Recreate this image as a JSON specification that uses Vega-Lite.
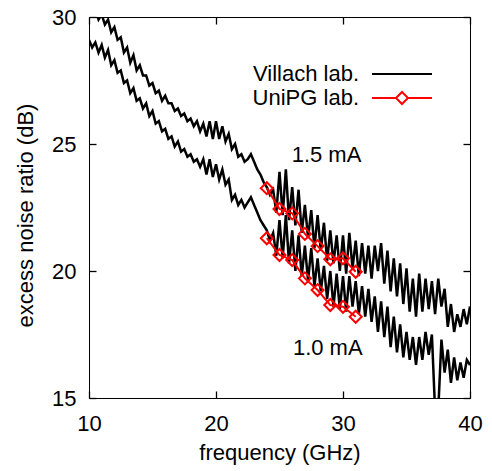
{
  "$schema": "https://vega.github.io/schema/vega-lite/v6.json",
  "width": 381,
  "height": 381,
  "autosize": {"type": "none"},
  "padding": {"left": 89, "top": 17, "right": 22, "bottom": 73},
  "background": "white",
  "config": {
    "view": {"stroke": "black", "strokeWidth": 1},
    "font": "Liberation Sans",
    "axis": {"grid": false, "domain": false, "ticks": true, "offset": -7, "tickSize": 7, "tickColor": "black", "tickWidth": 1.3, "labelColor": "black", "titleColor": "black", "labelFont": "Liberation Sans", "titleFont": "Liberation Sans", "labelFontSize": 22, "titleFontSize": 22, "titleFontWeight": "normal", "labelFlush": false, "labelOverlap": false}
  },
  "datasets": {
    "villach": [
      {"f":10.00,"v":30.5,"c":"1.5 mA","lab":"Villach lab."},{"f":10.25,"v":30.2,"c":"1.5 mA","lab":"Villach lab."},{"f":10.50,"v":30.3,"c":"1.5 mA","lab":"Villach lab."},{"f":10.75,"v":29.9,"c":"1.5 mA","lab":"Villach lab."},
      {"f":11.00,"v":30.1,"c":"1.5 mA","lab":"Villach lab."},{"f":11.25,"v":29.7,"c":"1.5 mA","lab":"Villach lab."},{"f":11.50,"v":29.9,"c":"1.5 mA","lab":"Villach lab."},{"f":11.75,"v":29.4,"c":"1.5 mA","lab":"Villach lab."},
      {"f":12.00,"v":29.6,"c":"1.5 mA","lab":"Villach lab."},{"f":12.25,"v":29.1,"c":"1.5 mA","lab":"Villach lab."},{"f":12.50,"v":29.2,"c":"1.5 mA","lab":"Villach lab."},{"f":12.75,"v":28.6,"c":"1.5 mA","lab":"Villach lab."},
      {"f":13.00,"v":28.8,"c":"1.5 mA","lab":"Villach lab."},{"f":13.25,"v":28.2,"c":"1.5 mA","lab":"Villach lab."},{"f":13.50,"v":28.5,"c":"1.5 mA","lab":"Villach lab."},{"f":13.75,"v":27.9,"c":"1.5 mA","lab":"Villach lab."},
      {"f":14.00,"v":28.1,"c":"1.5 mA","lab":"Villach lab."},{"f":14.25,"v":27.7,"c":"1.5 mA","lab":"Villach lab."},{"f":14.50,"v":27.7,"c":"1.5 mA","lab":"Villach lab."},{"f":14.75,"v":27.3,"c":"1.5 mA","lab":"Villach lab."},
      {"f":15.00,"v":27.4,"c":"1.5 mA","lab":"Villach lab."},{"f":15.25,"v":27.0,"c":"1.5 mA","lab":"Villach lab."},{"f":15.50,"v":27.1,"c":"1.5 mA","lab":"Villach lab."},{"f":15.75,"v":26.7,"c":"1.5 mA","lab":"Villach lab."},
      {"f":16.00,"v":26.9,"c":"1.5 mA","lab":"Villach lab."},{"f":16.25,"v":26.6,"c":"1.5 mA","lab":"Villach lab."},{"f":16.50,"v":26.6,"c":"1.5 mA","lab":"Villach lab."},{"f":16.75,"v":26.3,"c":"1.5 mA","lab":"Villach lab."},
      {"f":17.00,"v":26.4,"c":"1.5 mA","lab":"Villach lab."},{"f":17.25,"v":26.1,"c":"1.5 mA","lab":"Villach lab."},{"f":17.50,"v":26.2,"c":"1.5 mA","lab":"Villach lab."},{"f":17.75,"v":25.9,"c":"1.5 mA","lab":"Villach lab."},
      {"f":18.00,"v":26.0,"c":"1.5 mA","lab":"Villach lab."},{"f":18.25,"v":25.7,"c":"1.5 mA","lab":"Villach lab."},{"f":18.50,"v":25.9,"c":"1.5 mA","lab":"Villach lab."},{"f":18.75,"v":25.5,"c":"1.5 mA","lab":"Villach lab."},
      {"f":19.00,"v":25.8,"c":"1.5 mA","lab":"Villach lab."},{"f":19.25,"v":25.3,"c":"1.5 mA","lab":"Villach lab."},{"f":19.50,"v":25.9,"c":"1.5 mA","lab":"Villach lab."},{"f":19.75,"v":25.2,"c":"1.5 mA","lab":"Villach lab."},
      {"f":20.00,"v":25.9,"c":"1.5 mA","lab":"Villach lab."},{"f":20.25,"v":25.2,"c":"1.5 mA","lab":"Villach lab."},{"f":20.50,"v":25.7,"c":"1.5 mA","lab":"Villach lab."},{"f":20.75,"v":25.1,"c":"1.5 mA","lab":"Villach lab."},
      {"f":21.00,"v":25.4,"c":"1.5 mA","lab":"Villach lab."},{"f":21.25,"v":24.8,"c":"1.5 mA","lab":"Villach lab."},{"f":21.50,"v":25.0,"c":"1.5 mA","lab":"Villach lab."},{"f":21.75,"v":24.5,"c":"1.5 mA","lab":"Villach lab."},
      {"f":22.00,"v":24.6,"c":"1.5 mA","lab":"Villach lab."},{"f":22.25,"v":24.3,"c":"1.5 mA","lab":"Villach lab."},{"f":22.50,"v":24.4,"c":"1.5 mA","lab":"Villach lab."},{"f":22.75,"v":24.6,"c":"1.5 mA","lab":"Villach lab."},
      {"f":23.00,"v":24.3,"c":"1.5 mA","lab":"Villach lab."},{"f":23.25,"v":24.0,"c":"1.5 mA","lab":"Villach lab."},{"f":23.50,"v":23.8,"c":"1.5 mA","lab":"Villach lab."},{"f":23.75,"v":23.5,"c":"1.5 mA","lab":"Villach lab."},
      {"f":24.00,"v":23.3,"c":"1.5 mA","lab":"Villach lab."},{"f":24.25,"v":23.0,"c":"1.5 mA","lab":"Villach lab."},{"f":24.50,"v":23.2,"c":"1.5 mA","lab":"Villach lab."},{"f":24.75,"v":22.3,"c":"1.5 mA","lab":"Villach lab."},
      {"f":25.00,"v":23.9,"c":"1.5 mA","lab":"Villach lab."},{"f":25.25,"v":22.2,"c":"1.5 mA","lab":"Villach lab."},{"f":25.50,"v":24.0,"c":"1.5 mA","lab":"Villach lab."},{"f":25.75,"v":22.0,"c":"1.5 mA","lab":"Villach lab."},
      {"f":26.00,"v":23.3,"c":"1.5 mA","lab":"Villach lab."},{"f":26.25,"v":21.8,"c":"1.5 mA","lab":"Villach lab."},{"f":26.50,"v":23.2,"c":"1.5 mA","lab":"Villach lab."},{"f":26.75,"v":21.5,"c":"1.5 mA","lab":"Villach lab."},
      {"f":27.00,"v":22.6,"c":"1.5 mA","lab":"Villach lab."},{"f":27.25,"v":21.3,"c":"1.5 mA","lab":"Villach lab."},{"f":27.50,"v":22.4,"c":"1.5 mA","lab":"Villach lab."},{"f":27.75,"v":20.9,"c":"1.5 mA","lab":"Villach lab."},
      {"f":28.00,"v":22.2,"c":"1.5 mA","lab":"Villach lab."},{"f":28.25,"v":20.8,"c":"1.5 mA","lab":"Villach lab."},{"f":28.50,"v":21.9,"c":"1.5 mA","lab":"Villach lab."},{"f":28.75,"v":20.4,"c":"1.5 mA","lab":"Villach lab."},
      {"f":29.00,"v":21.6,"c":"1.5 mA","lab":"Villach lab."},{"f":29.25,"v":20.3,"c":"1.5 mA","lab":"Villach lab."},{"f":29.50,"v":21.4,"c":"1.5 mA","lab":"Villach lab."},{"f":29.75,"v":20.0,"c":"1.5 mA","lab":"Villach lab."},
      {"f":30.00,"v":21.4,"c":"1.5 mA","lab":"Villach lab."},{"f":30.25,"v":19.9,"c":"1.5 mA","lab":"Villach lab."},{"f":30.50,"v":21.5,"c":"1.5 mA","lab":"Villach lab."},{"f":30.75,"v":20.1,"c":"1.5 mA","lab":"Villach lab."},
      {"f":31.00,"v":21.2,"c":"1.5 mA","lab":"Villach lab."},{"f":31.25,"v":19.8,"c":"1.5 mA","lab":"Villach lab."},{"f":31.50,"v":21.1,"c":"1.5 mA","lab":"Villach lab."},{"f":31.75,"v":19.9,"c":"1.5 mA","lab":"Villach lab."},
      {"f":32.00,"v":21.0,"c":"1.5 mA","lab":"Villach lab."},{"f":32.25,"v":19.7,"c":"1.5 mA","lab":"Villach lab."},{"f":32.50,"v":21.0,"c":"1.5 mA","lab":"Villach lab."},{"f":32.75,"v":20.0,"c":"1.5 mA","lab":"Villach lab."},
      {"f":33.00,"v":21.1,"c":"1.5 mA","lab":"Villach lab."},{"f":33.25,"v":19.5,"c":"1.5 mA","lab":"Villach lab."},{"f":33.50,"v":20.8,"c":"1.5 mA","lab":"Villach lab."},{"f":33.75,"v":19.2,"c":"1.5 mA","lab":"Villach lab."},
      {"f":34.00,"v":20.5,"c":"1.5 mA","lab":"Villach lab."},{"f":34.25,"v":19.0,"c":"1.5 mA","lab":"Villach lab."},{"f":34.50,"v":20.3,"c":"1.5 mA","lab":"Villach lab."},{"f":34.75,"v":18.7,"c":"1.5 mA","lab":"Villach lab."},
      {"f":35.00,"v":20.1,"c":"1.5 mA","lab":"Villach lab."},{"f":35.25,"v":18.4,"c":"1.5 mA","lab":"Villach lab."},{"f":35.50,"v":19.7,"c":"1.5 mA","lab":"Villach lab."},{"f":35.75,"v":18.2,"c":"1.5 mA","lab":"Villach lab."},
      {"f":36.00,"v":19.9,"c":"1.5 mA","lab":"Villach lab."},{"f":36.25,"v":18.4,"c":"1.5 mA","lab":"Villach lab."},{"f":36.50,"v":19.7,"c":"1.5 mA","lab":"Villach lab."},{"f":36.75,"v":18.5,"c":"1.5 mA","lab":"Villach lab."},
      {"f":37.00,"v":19.6,"c":"1.5 mA","lab":"Villach lab."},{"f":37.25,"v":18.3,"c":"1.5 mA","lab":"Villach lab."},{"f":37.50,"v":19.7,"c":"1.5 mA","lab":"Villach lab."},{"f":37.75,"v":18.6,"c":"1.5 mA","lab":"Villach lab."},
      {"f":38.00,"v":19.3,"c":"1.5 mA","lab":"Villach lab."},{"f":38.25,"v":17.8,"c":"1.5 mA","lab":"Villach lab."},{"f":38.50,"v":18.7,"c":"1.5 mA","lab":"Villach lab."},{"f":38.75,"v":17.6,"c":"1.5 mA","lab":"Villach lab."},
      {"f":39.00,"v":18.3,"c":"1.5 mA","lab":"Villach lab."},{"f":39.25,"v":17.8,"c":"1.5 mA","lab":"Villach lab."},{"f":39.50,"v":18.5,"c":"1.5 mA","lab":"Villach lab."},{"f":39.75,"v":17.9,"c":"1.5 mA","lab":"Villach lab."},
      {"f":40.00,"v":18.6,"c":"1.5 mA","lab":"Villach lab."},
      {"f":10.00,"v":29.1,"c":"1.0 mA","lab":"Villach lab."},{"f":10.25,"v":28.8,"c":"1.0 mA","lab":"Villach lab."},{"f":10.50,"v":29.0,"c":"1.0 mA","lab":"Villach lab."},{"f":10.75,"v":28.6,"c":"1.0 mA","lab":"Villach lab."},
      {"f":11.00,"v":28.9,"c":"1.0 mA","lab":"Villach lab."},{"f":11.25,"v":28.4,"c":"1.0 mA","lab":"Villach lab."},{"f":11.50,"v":28.7,"c":"1.0 mA","lab":"Villach lab."},{"f":11.75,"v":28.1,"c":"1.0 mA","lab":"Villach lab."},
      {"f":12.00,"v":28.3,"c":"1.0 mA","lab":"Villach lab."},{"f":12.25,"v":27.8,"c":"1.0 mA","lab":"Villach lab."},{"f":12.50,"v":27.9,"c":"1.0 mA","lab":"Villach lab."},{"f":12.75,"v":27.4,"c":"1.0 mA","lab":"Villach lab."},
      {"f":13.00,"v":27.5,"c":"1.0 mA","lab":"Villach lab."},{"f":13.25,"v":27.0,"c":"1.0 mA","lab":"Villach lab."},{"f":13.50,"v":27.2,"c":"1.0 mA","lab":"Villach lab."},{"f":13.75,"v":26.7,"c":"1.0 mA","lab":"Villach lab."},
      {"f":14.00,"v":26.8,"c":"1.0 mA","lab":"Villach lab."},{"f":14.25,"v":26.4,"c":"1.0 mA","lab":"Villach lab."},{"f":14.50,"v":26.6,"c":"1.0 mA","lab":"Villach lab."},{"f":14.75,"v":26.1,"c":"1.0 mA","lab":"Villach lab."},
      {"f":15.00,"v":26.3,"c":"1.0 mA","lab":"Villach lab."},{"f":15.25,"v":25.8,"c":"1.0 mA","lab":"Villach lab."},{"f":15.50,"v":25.9,"c":"1.0 mA","lab":"Villach lab."},{"f":15.75,"v":25.5,"c":"1.0 mA","lab":"Villach lab."},
      {"f":16.00,"v":25.6,"c":"1.0 mA","lab":"Villach lab."},{"f":16.25,"v":25.2,"c":"1.0 mA","lab":"Villach lab."},{"f":16.50,"v":25.3,"c":"1.0 mA","lab":"Villach lab."},{"f":16.75,"v":24.9,"c":"1.0 mA","lab":"Villach lab."},
      {"f":17.00,"v":25.1,"c":"1.0 mA","lab":"Villach lab."},{"f":17.25,"v":24.7,"c":"1.0 mA","lab":"Villach lab."},{"f":17.50,"v":24.8,"c":"1.0 mA","lab":"Villach lab."},{"f":17.75,"v":24.5,"c":"1.0 mA","lab":"Villach lab."},
      {"f":18.00,"v":24.6,"c":"1.0 mA","lab":"Villach lab."},{"f":18.25,"v":24.3,"c":"1.0 mA","lab":"Villach lab."},{"f":18.50,"v":24.4,"c":"1.0 mA","lab":"Villach lab."},{"f":18.75,"v":24.1,"c":"1.0 mA","lab":"Villach lab."},
      {"f":19.00,"v":24.4,"c":"1.0 mA","lab":"Villach lab."},{"f":19.25,"v":23.8,"c":"1.0 mA","lab":"Villach lab."},{"f":19.50,"v":24.4,"c":"1.0 mA","lab":"Villach lab."},{"f":19.75,"v":23.7,"c":"1.0 mA","lab":"Villach lab."},
      {"f":20.00,"v":24.2,"c":"1.0 mA","lab":"Villach lab."},{"f":20.25,"v":23.6,"c":"1.0 mA","lab":"Villach lab."},{"f":20.50,"v":24.0,"c":"1.0 mA","lab":"Villach lab."},{"f":20.75,"v":23.4,"c":"1.0 mA","lab":"Villach lab."},
      {"f":21.00,"v":23.6,"c":"1.0 mA","lab":"Villach lab."},{"f":21.25,"v":22.8,"c":"1.0 mA","lab":"Villach lab."},{"f":21.50,"v":23.0,"c":"1.0 mA","lab":"Villach lab."},{"f":21.75,"v":22.6,"c":"1.0 mA","lab":"Villach lab."},
      {"f":22.00,"v":22.8,"c":"1.0 mA","lab":"Villach lab."},{"f":22.25,"v":22.5,"c":"1.0 mA","lab":"Villach lab."},{"f":22.50,"v":22.7,"c":"1.0 mA","lab":"Villach lab."},{"f":22.75,"v":22.9,"c":"1.0 mA","lab":"Villach lab."},
      {"f":23.00,"v":22.6,"c":"1.0 mA","lab":"Villach lab."},{"f":23.25,"v":22.3,"c":"1.0 mA","lab":"Villach lab."},{"f":23.50,"v":22.0,"c":"1.0 mA","lab":"Villach lab."},{"f":23.75,"v":21.8,"c":"1.0 mA","lab":"Villach lab."},
      {"f":24.00,"v":21.6,"c":"1.0 mA","lab":"Villach lab."},{"f":24.25,"v":21.2,"c":"1.0 mA","lab":"Villach lab."},{"f":24.50,"v":21.5,"c":"1.0 mA","lab":"Villach lab."},{"f":24.75,"v":20.6,"c":"1.0 mA","lab":"Villach lab."},
      {"f":25.00,"v":22.0,"c":"1.0 mA","lab":"Villach lab."},{"f":25.25,"v":20.5,"c":"1.0 mA","lab":"Villach lab."},{"f":25.50,"v":22.2,"c":"1.0 mA","lab":"Villach lab."},{"f":25.75,"v":20.3,"c":"1.0 mA","lab":"Villach lab."},
      {"f":26.00,"v":21.6,"c":"1.0 mA","lab":"Villach lab."},{"f":26.25,"v":20.0,"c":"1.0 mA","lab":"Villach lab."},{"f":26.50,"v":21.4,"c":"1.0 mA","lab":"Villach lab."},{"f":26.75,"v":19.8,"c":"1.0 mA","lab":"Villach lab."},
      {"f":27.00,"v":21.0,"c":"1.0 mA","lab":"Villach lab."},{"f":27.25,"v":19.6,"c":"1.0 mA","lab":"Villach lab."},{"f":27.50,"v":20.9,"c":"1.0 mA","lab":"Villach lab."},{"f":27.75,"v":19.4,"c":"1.0 mA","lab":"Villach lab."},
      {"f":28.00,"v":20.5,"c":"1.0 mA","lab":"Villach lab."},{"f":28.25,"v":19.2,"c":"1.0 mA","lab":"Villach lab."},{"f":28.50,"v":20.2,"c":"1.0 mA","lab":"Villach lab."},{"f":28.75,"v":18.9,"c":"1.0 mA","lab":"Villach lab."},
      {"f":29.00,"v":20.0,"c":"1.0 mA","lab":"Villach lab."},{"f":29.25,"v":18.6,"c":"1.0 mA","lab":"Villach lab."},{"f":29.50,"v":19.9,"c":"1.0 mA","lab":"Villach lab."},{"f":29.75,"v":18.5,"c":"1.0 mA","lab":"Villach lab."},
      {"f":30.00,"v":19.8,"c":"1.0 mA","lab":"Villach lab."},{"f":30.25,"v":18.4,"c":"1.0 mA","lab":"Villach lab."},{"f":30.50,"v":19.8,"c":"1.0 mA","lab":"Villach lab."},{"f":30.75,"v":18.6,"c":"1.0 mA","lab":"Villach lab."},
      {"f":31.00,"v":19.6,"c":"1.0 mA","lab":"Villach lab."},{"f":31.25,"v":18.3,"c":"1.0 mA","lab":"Villach lab."},{"f":31.50,"v":19.4,"c":"1.0 mA","lab":"Villach lab."},{"f":31.75,"v":18.2,"c":"1.0 mA","lab":"Villach lab."},
      {"f":32.00,"v":19.3,"c":"1.0 mA","lab":"Villach lab."},{"f":32.25,"v":18.0,"c":"1.0 mA","lab":"Villach lab."},{"f":32.50,"v":19.0,"c":"1.0 mA","lab":"Villach lab."},{"f":32.75,"v":17.6,"c":"1.0 mA","lab":"Villach lab."},
      {"f":33.00,"v":18.8,"c":"1.0 mA","lab":"Villach lab."},{"f":33.25,"v":17.4,"c":"1.0 mA","lab":"Villach lab."},{"f":33.50,"v":18.6,"c":"1.0 mA","lab":"Villach lab."},{"f":33.75,"v":17.0,"c":"1.0 mA","lab":"Villach lab."},
      {"f":34.00,"v":18.2,"c":"1.0 mA","lab":"Villach lab."},{"f":34.25,"v":16.8,"c":"1.0 mA","lab":"Villach lab."},{"f":34.50,"v":17.9,"c":"1.0 mA","lab":"Villach lab."},{"f":34.75,"v":16.6,"c":"1.0 mA","lab":"Villach lab."},
      {"f":35.00,"v":17.6,"c":"1.0 mA","lab":"Villach lab."},{"f":35.25,"v":16.5,"c":"1.0 mA","lab":"Villach lab."},{"f":35.50,"v":17.4,"c":"1.0 mA","lab":"Villach lab."},{"f":35.75,"v":16.3,"c":"1.0 mA","lab":"Villach lab."},
      {"f":36.00,"v":17.4,"c":"1.0 mA","lab":"Villach lab."},{"f":36.25,"v":16.5,"c":"1.0 mA","lab":"Villach lab."},{"f":36.50,"v":17.6,"c":"1.0 mA","lab":"Villach lab."},{"f":36.75,"v":16.7,"c":"1.0 mA","lab":"Villach lab."},
      {"f":37.00,"v":17.5,"c":"1.0 mA","lab":"Villach lab."},{"f":37.25,"v":14.5,"c":"1.0 mA","lab":"Villach lab."},{"f":37.50,"v":14.5,"c":"1.0 mA","lab":"Villach lab."},{"f":37.75,"v":17.3,"c":"1.0 mA","lab":"Villach lab."},
      {"f":38.00,"v":16.0,"c":"1.0 mA","lab":"Villach lab."},{"f":38.25,"v":16.9,"c":"1.0 mA","lab":"Villach lab."},{"f":38.50,"v":15.6,"c":"1.0 mA","lab":"Villach lab."},{"f":38.75,"v":16.6,"c":"1.0 mA","lab":"Villach lab."},
      {"f":39.00,"v":15.7,"c":"1.0 mA","lab":"Villach lab."},{"f":39.25,"v":16.4,"c":"1.0 mA","lab":"Villach lab."},{"f":39.50,"v":15.8,"c":"1.0 mA","lab":"Villach lab."},{"f":39.75,"v":16.5,"c":"1.0 mA","lab":"Villach lab."},
      {"f":40.00,"v":16.3,"c":"1.0 mA","lab":"Villach lab."}
    ],
    "unipg": [
      {"f":24,"v":23.26,"c":"1.5 mA","lab":"UniPG lab."},{"f":25,"v":22.44,"c":"1.5 mA","lab":"UniPG lab."},{"f":26,"v":22.27,"c":"1.5 mA","lab":"UniPG lab."},{"f":27,"v":21.46,"c":"1.5 mA","lab":"UniPG lab."},
      {"f":28,"v":20.98,"c":"1.5 mA","lab":"UniPG lab."},{"f":29,"v":20.46,"c":"1.5 mA","lab":"UniPG lab."},{"f":30,"v":20.50,"c":"1.5 mA","lab":"UniPG lab."},{"f":31,"v":19.97,"c":"1.5 mA","lab":"UniPG lab."},
      {"f":24,"v":21.29,"c":"1.0 mA","lab":"UniPG lab."},{"f":25,"v":20.63,"c":"1.0 mA","lab":"UniPG lab."},{"f":26,"v":20.43,"c":"1.0 mA","lab":"UniPG lab."},{"f":27,"v":19.71,"c":"1.0 mA","lab":"UniPG lab."},
      {"f":28,"v":19.25,"c":"1.0 mA","lab":"UniPG lab."},{"f":29,"v":18.66,"c":"1.0 mA","lab":"UniPG lab."},{"f":30,"v":18.59,"c":"1.0 mA","lab":"UniPG lab."},{"f":31,"v":18.20,"c":"1.0 mA","lab":"UniPG lab."}
    ],
    "notes": [
      {"f":28.7,"v":24.55,"t":"1.5 mA"},
      {"f":28.8,"v":16.95,"t":"1.0 mA"}
    ]
  },
  "resolve": {"axis": {"x": "independent", "y": "independent"}},
  "layer": [
    {
      "data": {"name": "villach"},
      "mark": {"type": "line", "strokeWidth": 2.5, "clip": true, "strokeJoin": "miter"},
      "encoding": {
        "x": {"field": "f", "type": "quantitative", "scale": {"domain": [10, 40], "nice": false, "zero": false},
              "axis": {"orient": "bottom", "values": [10, 20, 30, 40], "title": "frequency (GHz)", "labelPadding": 15, "titlePadding": 8}},
        "y": {"field": "v", "type": "quantitative", "scale": {"domain": [15, 30], "nice": false, "zero": false},
              "axis": {"orient": "left", "values": [15, 20, 25, 30], "title": "excess noise ratio (dB)", "labelPadding": 13, "titlePadding": 14, "titleY": 198}},
        "detail": {"field": "c"},
        "color": {"field": "lab", "type": "nominal",
          "scale": {"domain": ["Villach lab.", "UniPG lab."], "range": ["black", "red"]},
          "legend": {
            "orient": "none", "legendX": 302, "legendY": 46, "title": null, "padding": 0,
            "symbolSize": 100, "symbolStrokeWidth": 2, "labelAlign": "right", "labelOffset": -54,
            "labelFontSize": 22, "labelFont": "Liberation Sans", "labelColor": "black", "rowPadding": 2,
            "encode": {"symbols": {"update": {
              "shape": {"signal": "datum.value === 'UniPG lab.' ? 'M-6,0L-1.2,0M1.2,0L6,0M-1.2,0L0,-1.2L1.2,0L0,1.2Z' : 'M-6,0L6,0'"},
              "fill": {"value": "transparent"},
              "stroke": {"signal": "datum.value === 'UniPG lab.' ? 'red' : 'black'"},
              "strokeWidth": {"value": 2}
            }}}
          }}
      }
    },
    {
      "data": {"name": "unipg"},
      "mark": {"type": "line", "strokeWidth": 2, "clip": true},
      "encoding": {
        "x": {"field": "f", "type": "quantitative", "axis": null},
        "y": {"field": "v", "type": "quantitative", "axis": null},
        "detail": {"field": "c"},
        "color": {"field": "lab", "type": "nominal"}
      }
    },
    {
      "data": {"name": "unipg"},
      "mark": {"type": "point", "shape": "diamond", "filled": false, "size": 144, "strokeWidth": 2, "opacity": 1, "clip": true},
      "encoding": {
        "x": {"field": "f", "type": "quantitative", "axis": null},
        "y": {"field": "v", "type": "quantitative", "axis": null},
        "color": {"field": "lab", "type": "nominal"}
      }
    },
    {
      "data": {"name": "notes"},
      "mark": {"type": "text", "font": "Liberation Sans", "fontSize": 22, "color": "black", "align": "center", "baseline": "middle"},
      "encoding": {
        "x": {"field": "f", "type": "quantitative", "axis": {"orient": "top", "values": [10, 20, 30, 40], "labels": false, "title": null}},
        "y": {"field": "v", "type": "quantitative", "axis": {"orient": "right", "values": [15, 20, 25, 30], "labels": false, "title": null}},
        "text": {"field": "t"}
      }
    }
  ]
}
